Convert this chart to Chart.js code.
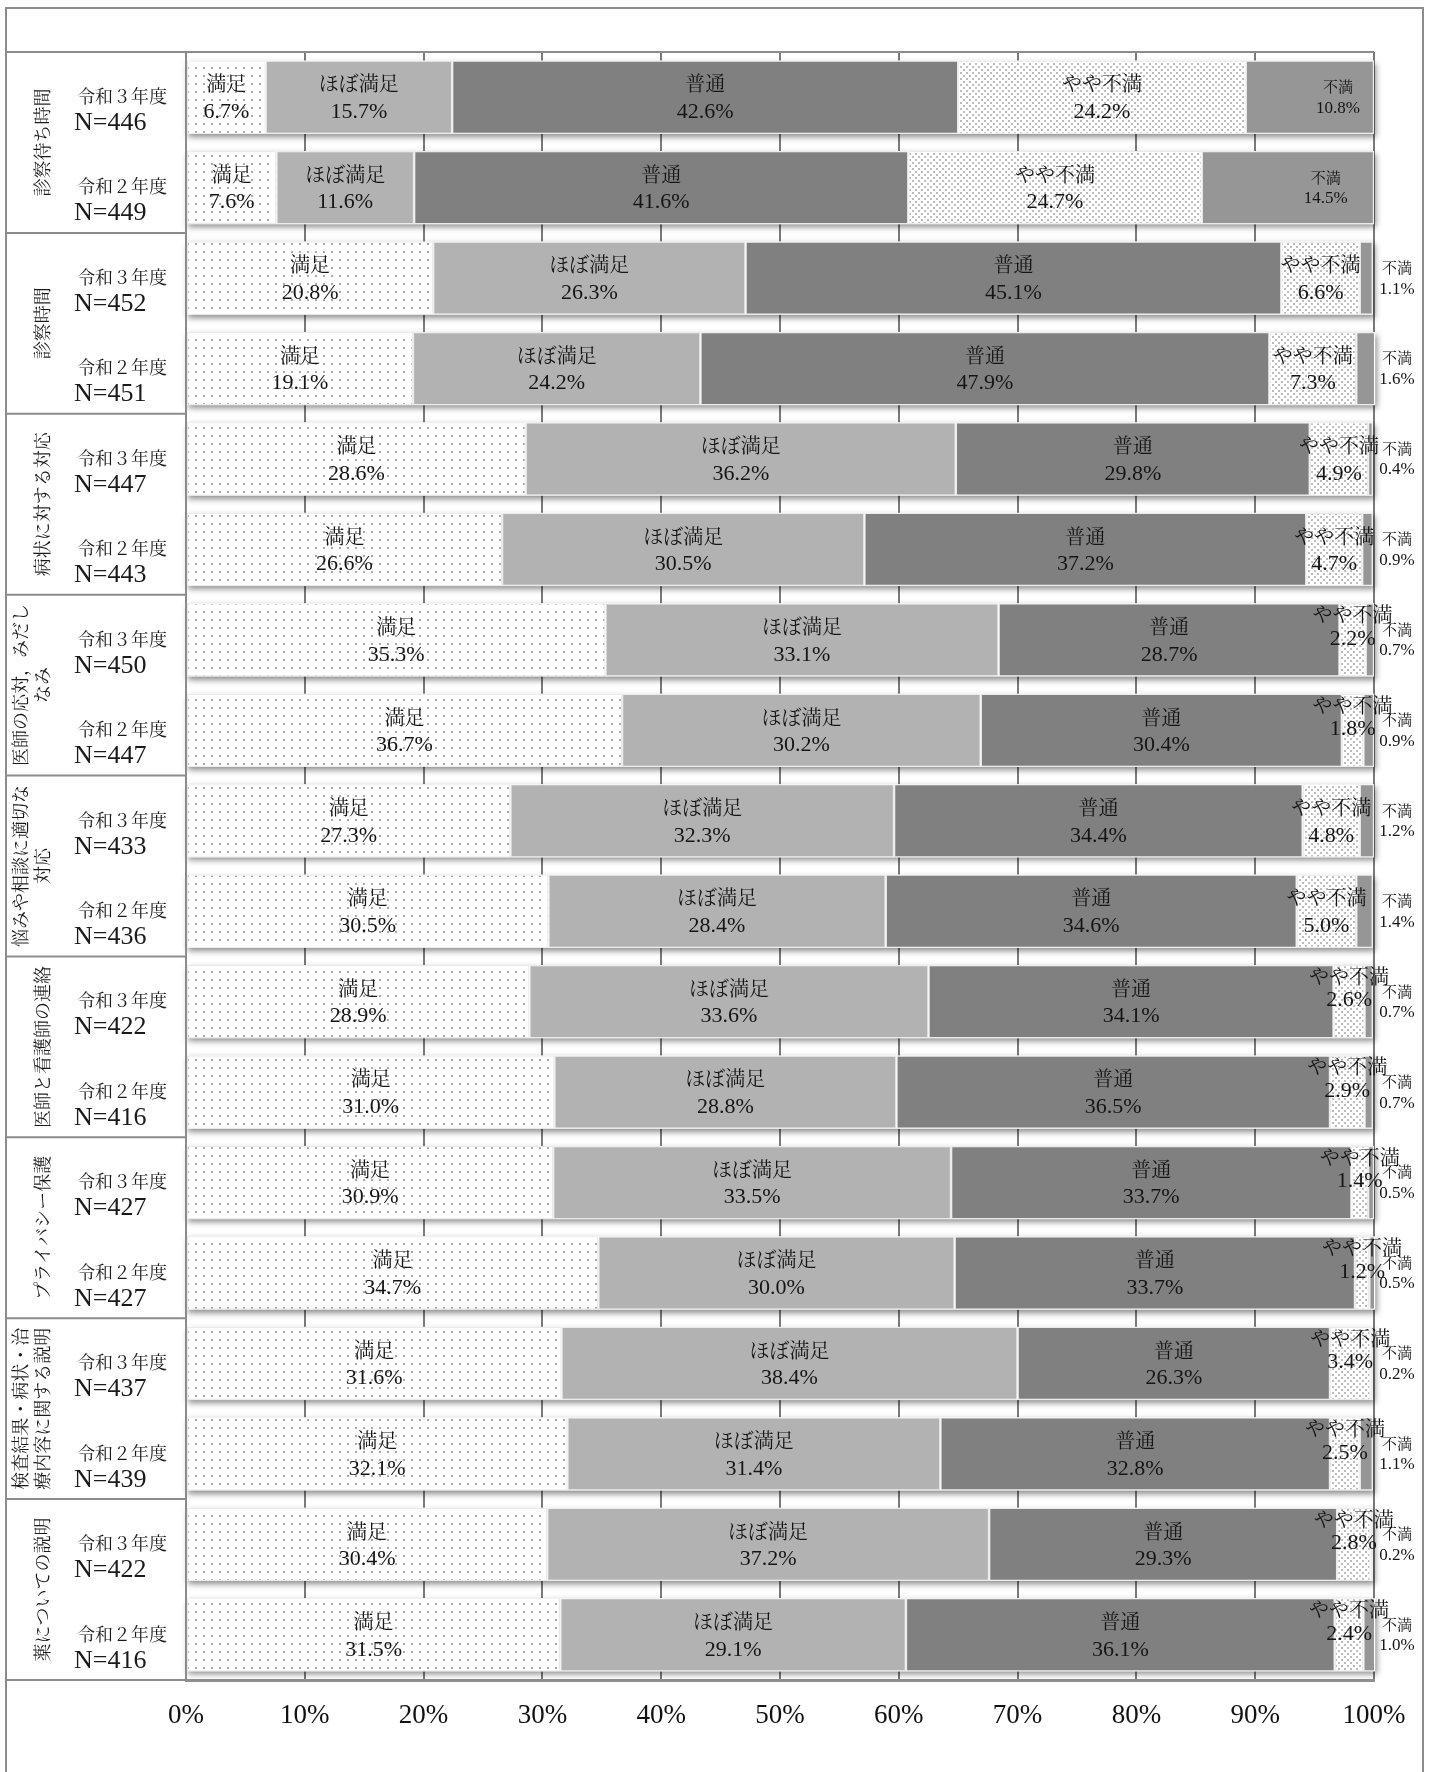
<!DOCTYPE html>
<html lang="ja">
<head>
<meta charset="utf-8">
<title>外来患者満足度</title>
<script src="https://cdn.jsdelivr.net/npm/chart.js@4.4.1/dist/chart.umd.min.js"></script>
<style>
  html, body { margin: 0; padding: 0; background: #fff; }
  canvas { display: block; }
</style>
</head>
<body>
<canvas id="chart" width="1433" height="1772"></canvas>
<script>
// question groups (two rows each: R3 / R2), wrapped the way they are printed
const groupLabels = [
  ["診察待ち時間"],
  ["診察時間"],
  ["病状に対する対応"],
  ["医師の応対，みだし", "なみ"],
  ["悩みや相談に適切な", "対応"],
  ["医師と看護師の連絡"],
  ["プライバシー保護"],
  ["検査結果・病状・治", "療内容に関する説明"],
  ["薬についての説明"],
];
const years = ["令和３年度", "令和２年度"];
const respondents = [446, 449, 452, 451, 447, 443, 450, 447, 433, 436, 422, 416, 427, 427, 437, 439, 422, 416];

const answers = ["満足", "ほぼ満足", "普通", "やや不満", "不満"];
const satisfied     = [6.7, 7.6, 20.8, 19.1, 28.6, 26.6, 35.3, 36.7, 27.3, 30.5, 28.9, 31.0, 30.9, 34.7, 31.6, 32.1, 30.4, 31.5];
const mostly        = [15.7, 11.6, 26.3, 24.2, 36.2, 30.5, 33.1, 30.2, 32.3, 28.4, 33.6, 28.8, 33.5, 30.0, 38.4, 31.4, 37.2, 29.1];
const neutral       = [42.6, 41.6, 45.1, 47.9, 29.8, 37.2, 28.7, 30.4, 34.4, 34.6, 34.1, 36.5, 33.7, 33.7, 26.3, 32.8, 29.3, 36.1];
const somewhatUnsat = [24.2, 24.7, 6.6, 7.3, 4.9, 4.7, 2.2, 1.8, 4.8, 5.0, 2.6, 2.9, 1.4, 1.2, 3.4, 2.5, 2.8, 2.4];
const unsatisfied   = [10.8, 14.5, 1.1, 1.6, 0.4, 0.9, 0.7, 0.9, 1.2, 1.4, 0.7, 0.7, 0.5, 0.5, 0.2, 1.1, 0.2, 1.0];

const tickLabels = ["0%", "10%", "20%", "30%", "40%", "50%", "60%", "70%", "80%", "90%", "100%"];

const SERIF = '"Liberation Serif", "Noto Serif CJK JP", "Noto Sans CJK JP", serif';
const LINE = "#8c8c8c";

const canvas = document.getElementById("chart");
const ctx = canvas.getContext("2d");

function dotPattern(size, dots, color) {
  const tile = document.createElement("canvas");
  tile.width = size;
  tile.height = size;
  const t = tile.getContext("2d");
  t.fillStyle = "#fff";
  t.fillRect(0, 0, size, size);
  t.fillStyle = color;
  dots.forEach(([x, y]) => t.fillRect(x, y, 2, 2));
  return ctx.createPattern(tile, "repeat");
}

const sparseDots = dotPattern(8, [[3, 3]], "#a9a9a9");
const denseDots = dotPattern(6, [[0, 0], [3, 3]], "#bdbdbd");

const rowLabels = respondents.map((n, i) => years[i % 2] + " N=" + n);
const seriesValues = [satisfied, mostly, neutral, somewhatUnsat, unsatisfied];
const fills = [sparseDots, "#b2b2b2", "#808080", denseDots, "#969696"];

// soft drop shadow under every row of bars
const shadowPlugin = {
  id: "rowShadow",
  beforeDatasetsDraw(chart) {
    const c = chart.ctx;
    const x = chart.scales.x;
    const first = chart.getDatasetMeta(0).data;
    c.save();
    c.fillStyle = "#fff";
    c.shadowColor = "rgba(0,0,0,0.45)";
    c.shadowBlur = 6;
    c.shadowOffsetX = 2;
    c.shadowOffsetY = 3;
    first.forEach((bar, i) => {
      const total = seriesValues.reduce((s, arr) => s + arr[i], 0);
      const l = x.getPixelForValue(0);
      const r = x.getPixelForValue(total);
      c.fillRect(l, bar.y - bar.height / 2, r - l, bar.height);
    });
    c.restore();
  },
};

// answer name + percentage on each segment
const labelPlugin = {
  id: "segmentLabels",
  afterDatasetsDraw(chart) {
    const c = chart.ctx;
    c.save();
    c.fillStyle = "#151515";
    c.textAlign = "center";
    c.textBaseline = "middle";
    chart.data.datasets.forEach((ds, d) => {
      chart.getDatasetMeta(d).data.forEach((bar, i) => {
        const v = ds.data[i];
        const left = Math.min(bar.base, bar.x);
        const right = Math.max(bar.base, bar.x);
        let cx = (left + right) / 2;
        let nameSize = 20, valueSize = 22, dy1 = -11, dy2 = 15;
        if (d === 4) {
          nameSize = 15; valueSize = 17; dy1 = -9; dy2 = 11;
          if (v < 2) cx = chart.chartArea.right + 23;
          else cx = left + (right - left) * 0.72;
        } else if (d === 3 && v < 4) {
          dy1 = -23; dy2 = -1;
        }
        c.font = nameSize + "px " + SERIF;
        c.fillText(ds.label, cx, bar.y + dy1);
        c.font = valueSize + "px " + SERIF;
        c.fillText(v.toFixed(1) + "%", cx, bar.y + dy2);
      });
    });
    c.restore();
  },
};

// table frame, question names and year / N column
const tablePlugin = {
  id: "tableFrame",
  afterDraw(chart) {
    const c = chart.ctx;
    const area = chart.chartArea;
    const rowH = (area.bottom - area.top) / respondents.length;
    const groupH = rowH * 2;
    c.save();
    c.strokeStyle = LINE;
    c.lineWidth = 2;
    c.strokeRect(6, 8, 1417, 1800);
    c.beginPath();
    c.moveTo(6, area.top);
    c.lineTo(area.right, area.top);
    for (let k = 1; k <= groupLabels.length; k++) {
      const y = area.top + k * groupH;
      c.moveTo(6, y);
      c.lineTo(area.left, y);
    }
    c.moveTo(area.left, area.top);
    c.lineTo(area.left, area.bottom);
    c.stroke();

    c.fillStyle = "#1a1a1a";
    c.textBaseline = "middle";
    c.textAlign = "center";
    c.font = "18px " + SERIF;
    groupLabels.forEach((lines, g) => {
      const cy = area.top + (g + 0.5) * groupH;
      const xs = lines.length === 2 ? [22, 44] : [44];
      lines.forEach((txt, j) => {
        c.save();
        c.translate(xs[j], cy);
        c.rotate(-Math.PI / 2);
        c.fillText(txt, 0, 0);
        c.restore();
      });
    });

    c.textAlign = "left";
    respondents.forEach((n, i) => {
      const cy = area.top + (i + 0.5) * rowH;
      c.font = "18px " + SERIF;
      c.fillText(years[i % 2], 77, cy + 1);
      c.font = "26px " + SERIF;
      c.fillText("N=" + n, 74, cy + 26);
    });
    c.restore();
  },
};

new Chart(ctx, {
  type: "bar",
  data: {
    labels: rowLabels,
    datasets: answers.map((name, d) => ({
      label: name,
      data: seriesValues[d],
      backgroundColor: fills[d],
      borderColor: "#ebebeb",
      borderWidth: 1.2,
      borderSkipped: false,
      barPercentage: 0.81,
      categoryPercentage: 1,
    })),
  },
  options: {
    indexAxis: "y",
    responsive: false,
    animation: false,
    devicePixelRatio: 1,
    layout: { padding: { left: 186, right: 59, top: 52, bottom: 32 } },
    plugins: { legend: { display: false }, tooltip: { enabled: false } },
    scales: {
      x: {
        stacked: true,
        min: 0,
        max: 100,
        ticks: {
          stepSize: 10,
          padding: 20,
          color: "#111",
          font: { family: SERIF, size: 27 },
          callback: (v, i) => tickLabels[i],
        },
        grid: { color: "#7a7a7a", lineWidth: 2, drawTicks: false },
        border: { display: true, color: "#909090", width: 3 },
        afterFit: (scale) => { scale.height = 60; },
      },
      y: { stacked: true, display: false },
    },
  },
  plugins: [shadowPlugin, labelPlugin, tablePlugin],
});
</script>
</body>
</html>
